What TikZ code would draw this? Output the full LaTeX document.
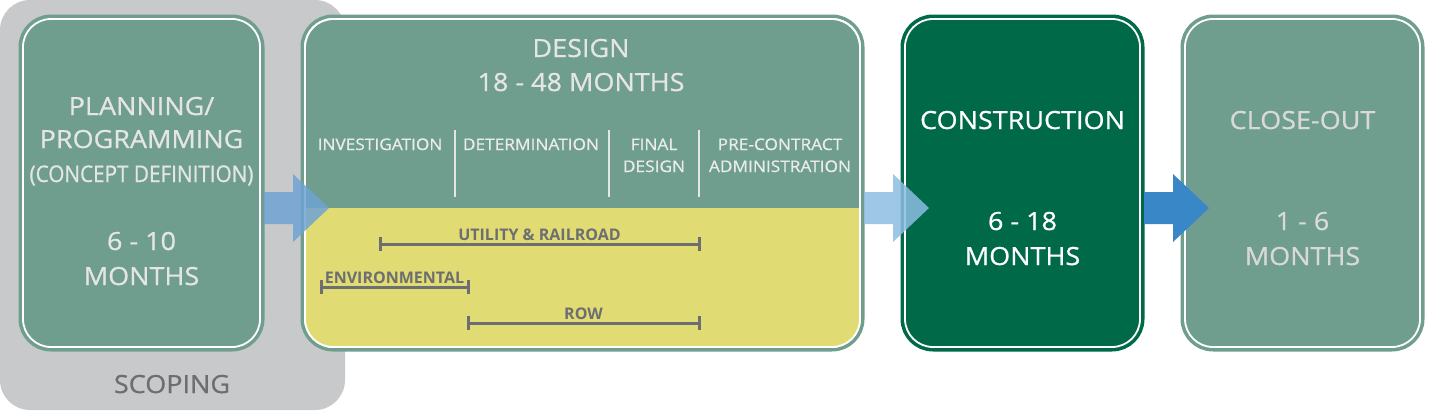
\documentclass[tikz,border=0pt]{standalone}
\usepackage{fontspec}
\setmainfont{Open Sans}[FakeStretch=1.08,FakeBold=0.7]
\newfontfamily\condfont{Open Sans}[FakeStretch=0.9,FakeBold=0.7]
\newfontfamily\barfont{Open Sans Bold}
\usetikzlibrary{calc}
\definecolor{phasegreen}{HTML}{6F9E8F}
\definecolor{buildgreen}{HTML}{006A48}
\definecolor{rowyellow}{HTML}{E0DB72}
\definecolor{scopegray}{HTML}{C8C9CB}
\definecolor{labelgray}{HTML}{6D6E71}
\definecolor{arrowA}{HTML}{6FA3D3}
\definecolor{arrowB}{HTML}{8DBDE3}
\definecolor{arrowC}{HTML}{3A87C8}
\newcommand\phasearrow[3]{%
  \path (#2.east |- axis) coordinate (#2-out) (#3.west |- axis) coordinate (#3-in);
  \fill[#1] ($(#2-out)+(4,-16)$) -- ($(#3-in)+(-12,-16)$) -- ($(#3-in)+(-12,-34)$)
    -- ($(#3-in)+(24,0)$) -- ($(#3-in)+(-12,34)$) -- ($(#3-in)+(-12,16)$)
    -- ($(#2-out)+(4,16)$) -- cycle;}
\begin{document}
\begin{tikzpicture}[x=1pt,y=-1pt,
    phase/.style={rectangle,rounded corners=28pt,draw=white,line width=1.8pt,fill=#1,
      preaction={draw=#1,line width=9pt},minimum height=328pt,inner sep=0pt,outer sep=0pt},
    big/.style={font=\fontsize{25}{30}\selectfont,text=#1,anchor=base,inner sep=0pt},
    big/.default={white!90!black},
    small/.style={font=\fontsize{16}{20}\selectfont,text=white!92!black,anchor=base,inner sep=0pt},
    bar/.style={labelgray,line width=3pt},
    barlabel/.style={font=\barfont\fontsize{16}{18}\selectfont,text=labelgray,anchor=base,
      inner sep=0pt,yshift=4pt}]
\useasboundingbox (0,0) rectangle (1430,410);
\coordinate (axis) at (0,208);
\fill[scopegray,rounded corners=30pt] (0,0) rectangle (345,410);
\node[big=labelgray] (scoping) at (172,393) {SCOPING};

\node[phase=phasegreen,minimum width=237pt] (plan) at (141.5,183) {};
\node[phase=phasegreen,minimum width=555pt] (design) at (582.5,183) {};
\node[phase=buildgreen,minimum width=235pt] (build) at (1022.5,183) {};
\node[phase=phasegreen,minimum width=235pt] (closeout) at (1302.5,183) {};

\begin{scope}
  \clip[rounded corners=28pt] (design.south west) rectangle (design.north east);
  \fill[rowyellow] (design.west |- axis) rectangle (design.south east);
\end{scope}
\draw[white,line width=1.8pt,rounded corners=28pt] (design.south west) rectangle (design.north east);

\node[big] (plan1) at (141.5,115) {PLANNING/};
\node[big] (plan2) at (141.5,148) {PROGRAMMING};
\node[big,font=\condfont\fontsize{23}{28}\selectfont] (plan3) at (141.5,182) {(CONCEPT DEFINITION)};
\node[big] (plan4) at (141.5,250) {6 - 10};
\node[big] (plan5) at (141.5,285) {MONTHS};

\node[big] (design1) at (581,57) {DESIGN};
\node[big] (design2) at (581,91) {18 - 48 MONTHS};
\node[small] (step1) at (380,150) {INVESTIGATION};
\node[small] (step2) at (531,150) {DETERMINATION};
\node[small] (step3) at (654,150) {FINAL};
\node[small] (step3b) at (654,172) {DESIGN};
\node[small] (step4) at (780,150) {PRE-CONTRACT};
\node[small] (step4b) at (780,172) {ADMINISTRATION};
\foreach \x in {455,609,699}
  \draw[white!90!black,line width=1.5pt] (\x,130) -- (\x,197);
\foreach \name/\a/\b/\y [count=\i] in {UTILITY \& RAILROAD/380/699/244,ENVIRONMENTAL/321/468/287,ROW/468/699/323}
  \draw[bar] (\a,\y-7) -- (\a,\y+7) (\a,\y) -- node[barlabel] (bar\i) {\name} (\b,\y) (\b,\y-7) -- (\b,\y+7);

\node[big=white] (build1) at (1022.5,129) {CONSTRUCTION};
\node[big=white] (build2) at (1022.5,230) {6 - 18};
\node[big=white] (build3) at (1022.5,265) {MONTHS};
\node[big=white!85!black] (close1) at (1302.5,129) {CLOSE-OUT};
\node[big=white!85!black] (close2) at (1302.5,230) {1 - 6};
\node[big=white!85!black] (close3) at (1302.5,265) {MONTHS};

\phasearrow{arrowA,fill opacity=0.85}{plan}{design}
\phasearrow{arrowB,fill opacity=0.85}{design}{build}
\phasearrow{arrowC}{build}{closeout}
\end{tikzpicture}
\end{document}
